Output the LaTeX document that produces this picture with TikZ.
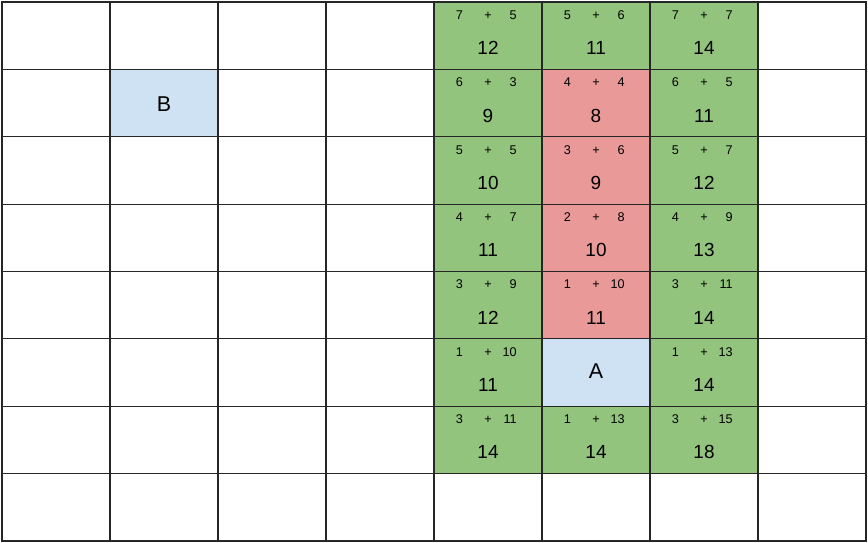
\documentclass[tikz,border=0pt]{standalone}
\usepackage{xcolor}
\usepackage{fontspec}
\setmainfont{Liberation Sans}
\usepackage{tikz}
\usetikzlibrary{positioning}

\definecolor{okcell}{HTML}{93C47D}
\definecolor{badcell}{HTML}{EA9999}
\definecolor{endcell}{HTML}{CFE2F3}

\begin{document}
\begin{tikzpicture}[x=0.02cm,y=-0.02cm]
\tikzstyle{cell} = [draw=black!85,line width=0.6pt,minimum width=2.16cm,minimum height=1.3475cm,inner sep=0pt];
\tikzstyle{addend} = [font=\fontsize{7.2}{8}\selectfont,inner sep=0pt];
\tikzstyle{total} = [font=\fontsize{10.8}{12}\selectfont,inner sep=0pt];
\tikzstyle{letter} = [font=\fontsize{12.2}{14}\selectfont,inner sep=0pt];
\useasboundingbox (0,0) rectangle (868,543);

% empty grid
\foreach \c in {0,...,7}
  \foreach \r in {0,...,7}
    \node [cell] (c\c\r) at ({56+108*\c},{35.7+67.375*\r}) {};

% scored cells
\foreach \c/\r/\col/\a/\b/\s in {4/0/okcell/7/5/12, 4/1/okcell/6/3/9, 4/2/okcell/5/5/10,
    4/3/okcell/4/7/11, 4/4/okcell/3/9/12, 4/5/okcell/1/10/11, 4/6/okcell/3/11/14,
    5/0/okcell/5/6/11, 5/1/badcell/4/4/8, 5/2/badcell/3/6/9, 5/3/badcell/2/8/10,
    5/4/badcell/1/10/11, 5/6/okcell/1/13/14,
    6/0/okcell/7/7/14, 6/1/okcell/6/5/11, 6/2/okcell/5/7/12, 6/3/okcell/4/9/13,
    6/4/okcell/3/11/14, 6/5/okcell/1/13/14, 6/6/okcell/3/15/18}
{
  \node [cell,fill=\col] (s\c\r) at (c\c\r) {};
  \node [addend,anchor=base west] (a\c\r) at ([xshift=-0.65cm,yshift=-0.36cm]s\c\r.north) {\a};
  \node [addend,anchor=base] (p\c\r) at ([yshift=-0.36cm]s\c\r.north) {+};
  \node [addend,anchor=base east] (b\c\r) at ([xshift=0.58cm,yshift=-0.36cm]s\c\r.north) {\b};
  \node [total] (t\c\r) at ([yshift=-0.25cm]s\c\r.center) {\s};
}

% start and goal
\node [cell,fill=endcell] (A) at (c55) {};
\node [letter] at ([yshift=0.02cm]A.center) {A};
\node [cell,fill=endcell] (B) at (c11) {};
\node [letter] at ([yshift=-0.02cm]B.center) {B};

\end{tikzpicture}
\end{document}
